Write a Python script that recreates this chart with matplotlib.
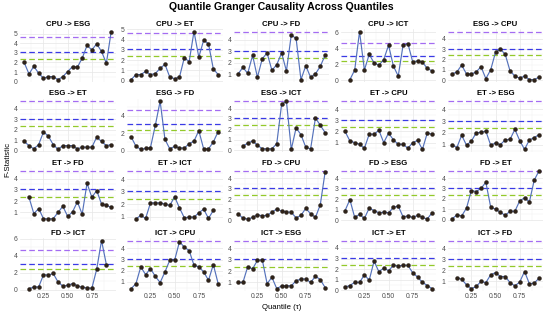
import numpy as np
import matplotlib
matplotlib.use("Agg")
import matplotlib.pyplot as plt
from matplotlib.ticker import MultipleLocator, FixedLocator

# Quantile Granger causality, F-statistic per quantile, 20 directed pairs

quantiles = [0.05, 0.10, 0.15, 0.20, 0.25, 0.30, 0.35, 0.40, 0.45, 0.50,
             0.55, 0.60, 0.65, 0.70, 0.75, 0.80, 0.85, 0.90, 0.95]

cpu_esg = [2.0, 0.8, 1.6, 0.87, 0.35, 0.52, 0.52, 0.2, 0.52, 1.05, 1.57, 1.5, 2.45, 3.78, 3.32, 3.95, 3.15, 1.92, 5.24]
cpu_et  = [0.1, 0.6, 0.6, 0.9, 0.6, 0.7, 1.2, 1.6, 0.35, 0.2, 0.35, 2.25, 1.85, 4.8, 2.3, 3.95, 3.6, 1.15, 0.6]
cpu_fd  = [1.05, 1.6, 1.1, 2.65, 0.75, 2.35, 2.85, 1.35, 1.85, 2.85, 1.3, 4.4, 4.1, 0.55, 1.75, 0.75, 1.05, 1.7, 2.65]
cpu_ict = [None, 0.1, 1.3, 6.1, 1.3, 3.25, 2.2, 1.9, 2.6, 4.4, 1.8, 0.55, 4.4, 4.6, 2.3, 2.45, 2.3, 1.5, 1.2]
esg_cpu = [0.6, 0.8, 1.45, 0.6, 0.6, 0.8, 1.3, 0.15, 1.0, 2.7, 3.0, 2.5, 0.9, 0.4, 0.2, 0.4, 0.05, 0.05, 0.3]

esg_et  = [0.9, 0.5, 0.2, 0.6, 1.8, 1.4, 0.6, 0.15, 0.5, 0.5, 0.5, 0.2, 0.35, 0.35, 0.35, 1.3, 0.9, 0.5, 0.6]
esg_fd  = [1.6, 0.5, 0.15, 0.25, 0.35, 2.9, 5.7, 1.3, 0.2, 0.5, 0.3, 0.3, 0.8, 1.1, 2.3, 0.2, 0.2, 1.0, 2.2]
esg_ict = [None, 0.4, 0.7, 0.9, 0.5, 0.15, 0.15, 0.15, 0.65, 4.4, 4.7, 0.1, 2.15, 1.5, 0.3, 0.15, 3.1, 2.4, 1.7]
et_cpu  = [2.0, 1.15, 1.0, 0.85, 0.5, 1.75, 1.75, 2.1, 1.0, 1.85, 1.25, 0.85, 0.85, 0.5, 1.0, 1.2, 0.4, 1.85, 1.75]
et_esg  = [1.0, 0.75, 1.8, 0.95, 1.3, 2.0, 2.05, 2.15, 0.95, 1.15, 1.0, 1.4, 1.45, 2.3, 1.35, 0.6, 1.4, 1.6, 1.85]

et_fd   = [None, 2.35, 0.9, 1.35, 0.45, 0.42, 0.45, 1.0, 1.55, 0.65, 1.05, 1.95, 0.85, 3.6, 2.35, 2.95, 1.75, 1.65, 1.45]
et_ict  = [None, 0.8, 1.1, 0.85, 2.1, 2.1, 2.1, 2.0, 1.9, 2.6, 1.7, 0.9, 0.95, 0.95, 1.3, 1.6, 0.85, 1.5, None]
fd_cpu  = [0.65, 0.22, 0.15, 0.3, 0.55, 0.45, 0.5, 0.8, 1.1, 0.9, 0.8, 0.8, 0.25, 0.5, 1.15, 0.65, 0.3, 1.5, 4.6]
fd_esg  = [0.9, 1.95, 0.25, 0.55, 0.15, 1.15, 0.9, 0.7, 0.75, 0.7, 1.2, 1.35, 0.3, 0.4, 0.25, 0.45, 0.25, 0.1, 0.7]
fd_et   = [0.05, 0.45, 0.35, 1.1, 2.8, 2.7, 3.0, 3.6, 1.2, 1.0, 0.7, 0.4, 0.8, 0.8, 1.8, 2.1, 1.7, 3.8, 4.7]

fd_ict  = [None, 0.1, 0.3, 0.3, 1.75, 1.7, 1.9, 0.9, 0.4, 0.5, 0.7, 0.45, 0.25, 0.2, 0.15, 2.4, 5.8, 2.95, None]
ict_cpu = [0.4, 0.85, 2.35, 1.65, 2.2, 1.5, 0.95, 1.9, 2.95, 2.95, 4.6, 4.1, 3.8, 2.5, 2.35, 1.9, 1.15, 2.55, 0.85]
ict_esg = [1.0, 1.0, 2.4, 2.2, 2.95, 3.0, 0.9, 1.45, 0.45, 0.7, 0.7, 0.7, 1.15, 1.3, 1.3, 1.0, 1.55, 1.25, 0.55]
ict_et  = [0.3, 0.45, 0.75, 0.75, 1.45, 0.95, 2.75, 1.75, 2.1, 1.85, 2.35, 2.3, 2.35, 2.35, 1.65, 1.25, 0.75, 0.45, 0.15]
ict_fd  = [None, 1.35, 1.2, 0.7, 0.35, 0.55, 1.0, 0.9, 1.6, 1.8, 1.45, 1.45, 0.9, 0.6, 0.95, 1.9, 0.8, 0.85, 1.3]

panels = ["CPU -> ESG", "CPU -> ET", "CPU -> FD", "CPU -> ICT", "ESG -> CPU",
          "ESG -> ET", "ESG -> FD", "ESG -> ICT", "ET -> CPU", "ET -> ESG",
          "ET -> FD", "ET -> ICT", "FD -> CPU", "FD -> ESG", "FD -> ET",
          "FD -> ICT", "ICT -> CPU", "ICT -> ESG", "ICT -> ET", "ICT -> FD"]
series = [cpu_esg, cpu_et, cpu_fd, cpu_ict, esg_cpu,
          esg_et, esg_fd, esg_ict, et_cpu, et_esg,
          et_fd, et_ict, fd_cpu, fd_esg, fd_et,
          fd_ict, ict_cpu, ict_esg, ict_et, ict_fd]

# critical values (dashed reference lines)
crit_levels = [4.7, 3.05, 2.4]
crit_colors = ["#a46cf2", "#3a3ae6", "#93c92a"]

# panels whose free y scale uses steps of 2
wide_steps = {"CPU -> ICT", "ESG -> FD", "FD -> ICT"}

plt.rcParams['font.family'] = ['Liberation Sans', 'DejaVu Sans']

fig, axes = plt.subplots(4, 5, figsize=(5.5, 3.13), dpi=100, sharex=True)
fig.subplots_adjust(left=0.036, right=0.988, top=0.907, bottom=0.070,
                    wspace=0.117, hspace=0.315)

x = np.array(quantiles)
for ax, name, vals in zip(axes.flat, panels, series):
    y = np.array([np.nan if v is None else v for v in vals], dtype=float)

    for lvl, col in zip(crit_levels, crit_colors):
        ax.axhline(lvl, color=col, lw=0.9, ls=(0, (4.5, 2.5)), zorder=2)

    ax.plot(x, y, color="#5572bb", lw=0.85, zorder=3)
    ax.plot(x, y, 'o', ms=2.8, mfc="#2e2218", mec="#1a120c", mew=0.3, zorder=4)

    lo = min(np.nanmin(y), min(crit_levels))
    hi = max(np.nanmax(y), max(crit_levels))
    pad = 0.05 * (hi - lo)
    ax.set_ylim(lo - pad, hi + pad)
    ax.set_xlim(0.005, 0.995)

    step = 2 if name in wide_steps else 1
    ax.yaxis.set_major_locator(MultipleLocator(step))
    ax.yaxis.set_minor_locator(MultipleLocator(step / 2))
    ax.xaxis.set_major_locator(FixedLocator([0.25, 0.5, 0.75]))
    ax.xaxis.set_minor_locator(FixedLocator([0.125, 0.375, 0.625, 0.875]))
    ax.xaxis.set_major_formatter(plt.FuncFormatter(lambda v, p: f"{v:.2f}"))

    ax.grid(which='major', color="#e6e6e6", lw=0.5)
    ax.grid(which='minor', color="#f2f2f2", lw=0.35)
    ax.set_axisbelow(True)
    for s in ax.spines.values():
        s.set_visible(False)
    ax.tick_params(which='both', length=0, labelsize=4.9, colors="#4d4d4d", pad=1.5)
    ax.set_title(name, fontsize=5.6, fontweight='bold', pad=2.5)

fig.suptitle("Quantile Granger Causality Across Quantiles", fontsize=7.6,
             fontweight='bold', x=0.512, y=0.995)
fig.text(0.008, 0.49, "F-Statistic", rotation=90, fontsize=5.6, ha='left', va='center')
fig.text(0.512, 0.005, "Quantile (τ)", fontsize=5.6, ha='center', va='bottom')

plt.savefig("out.png", dpi=100)
